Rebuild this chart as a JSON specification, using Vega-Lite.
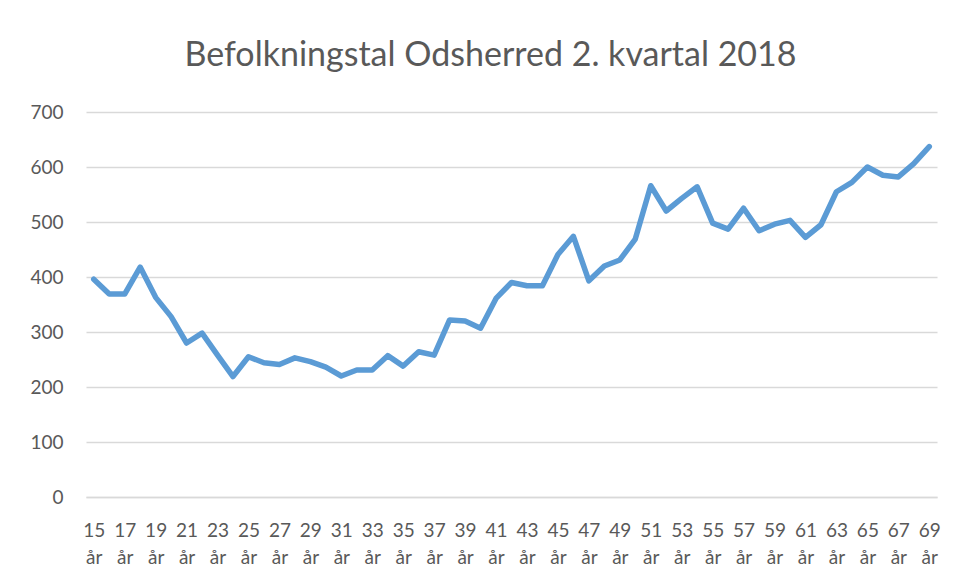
{
  "$schema": "https://vega.github.io/schema/vega-lite/v6.json",
  "width": 851,
  "height": 385,
  "autosize": "none",
  "padding": {"left": 86, "top": 112, "right": 20, "bottom": 83},
  "background": "white",
  "title": {
    "text": "Befolkningstal Odsherred 2. kvartal 2018",
    "font": "Lato",
    "fontSize": 34,
    "fontWeight": "normal",
    "color": "#595959",
    "anchor": "middle",
    "baseline": "alphabetic",
    "offset": 3,
    "dx": -21
  },
  "config": {
    "view": {"stroke": null},
    "font": "Lato"
  },
  "data": {
    "values": [
      {"alder": "15 år", "antal": 396},
      {"alder": "16 år", "antal": 369},
      {"alder": "17 år", "antal": 369},
      {"alder": "18 år", "antal": 418},
      {"alder": "19 år", "antal": 363},
      {"alder": "20 år", "antal": 328},
      {"alder": "21 år", "antal": 280},
      {"alder": "22 år", "antal": 298},
      {"alder": "23 år", "antal": 258},
      {"alder": "24 år", "antal": 219},
      {"alder": "25 år", "antal": 255},
      {"alder": "26 år", "antal": 244},
      {"alder": "27 år", "antal": 241},
      {"alder": "28 år", "antal": 253},
      {"alder": "29 år", "antal": 246},
      {"alder": "30 år", "antal": 236},
      {"alder": "31 år", "antal": 220},
      {"alder": "32 år", "antal": 231},
      {"alder": "33 år", "antal": 231},
      {"alder": "34 år", "antal": 257},
      {"alder": "35 år", "antal": 238},
      {"alder": "36 år", "antal": 264},
      {"alder": "37 år", "antal": 258},
      {"alder": "38 år", "antal": 322},
      {"alder": "39 år", "antal": 320},
      {"alder": "40 år", "antal": 307},
      {"alder": "41 år", "antal": 361},
      {"alder": "42 år", "antal": 390},
      {"alder": "43 år", "antal": 384},
      {"alder": "44 år", "antal": 384},
      {"alder": "45 år", "antal": 441},
      {"alder": "46 år", "antal": 474},
      {"alder": "47 år", "antal": 393},
      {"alder": "48 år", "antal": 420},
      {"alder": "49 år", "antal": 431},
      {"alder": "50 år", "antal": 469},
      {"alder": "51 år", "antal": 566},
      {"alder": "52 år", "antal": 520},
      {"alder": "53 år", "antal": 543},
      {"alder": "54 år", "antal": 564},
      {"alder": "55 år", "antal": 498},
      {"alder": "56 år", "antal": 487},
      {"alder": "57 år", "antal": 525},
      {"alder": "58 år", "antal": 484},
      {"alder": "59 år", "antal": 496},
      {"alder": "60 år", "antal": 503},
      {"alder": "61 år", "antal": 472},
      {"alder": "62 år", "antal": 495},
      {"alder": "63 år", "antal": 555},
      {"alder": "64 år", "antal": 572},
      {"alder": "65 år", "antal": 600},
      {"alder": "66 år", "antal": 585},
      {"alder": "67 år", "antal": 582},
      {"alder": "68 år", "antal": 606},
      {"alder": "69 år", "antal": 637}
    ]
  },
  "mark": {
    "type": "line",
    "color": "#5B9BD5",
    "strokeWidth": 5.5,
    "strokeCap": "round",
    "strokeJoin": "round"
  },
  "encoding": {
    "x": {
      "field": "alder",
      "type": "nominal",
      "sort": null,
      "scale": {"type": "point", "padding": 0.5},
      "axis": {
        "title": null,
        "values": ["15 år","17 år","19 år","21 år","23 år","25 år","27 år","29 år","31 år","33 år","35 år","37 år","39 år","41 år","43 år","45 år","47 år","49 år","51 år","53 år","55 år","57 år","59 år","61 år","63 år","65 år","67 år","69 år"],
        "labelExpr": "split(datum.label, ' ')",
        "labelAngle": 0,
        "labelOverlap": false,
        "labelFontSize": 19,
        "labelColor": "#595959",
        "labelLineHeight": 27,
        "labelPadding": 24,
        "labelBaseline": "top",
        "ticks": false,
        "domain": true,
        "domainColor": "#d9d9d9",
        "domainWidth": 1.5,
        "grid": false
      }
    },
    "y": {
      "field": "antal",
      "type": "quantitative",
      "scale": {"domain": [0, 700], "nice": false},
      "axis": {
        "title": null,
        "values": [0, 100, 200, 300, 400, 500, 600, 700],
        "labelFontSize": 19,
        "labelColor": "#595959",
        "labelPadding": 23,
        "ticks": false,
        "domain": false,
        "grid": true,
        "gridColor": "#d9d9d9",
        "gridWidth": 1.5
      }
    }
  }
}
